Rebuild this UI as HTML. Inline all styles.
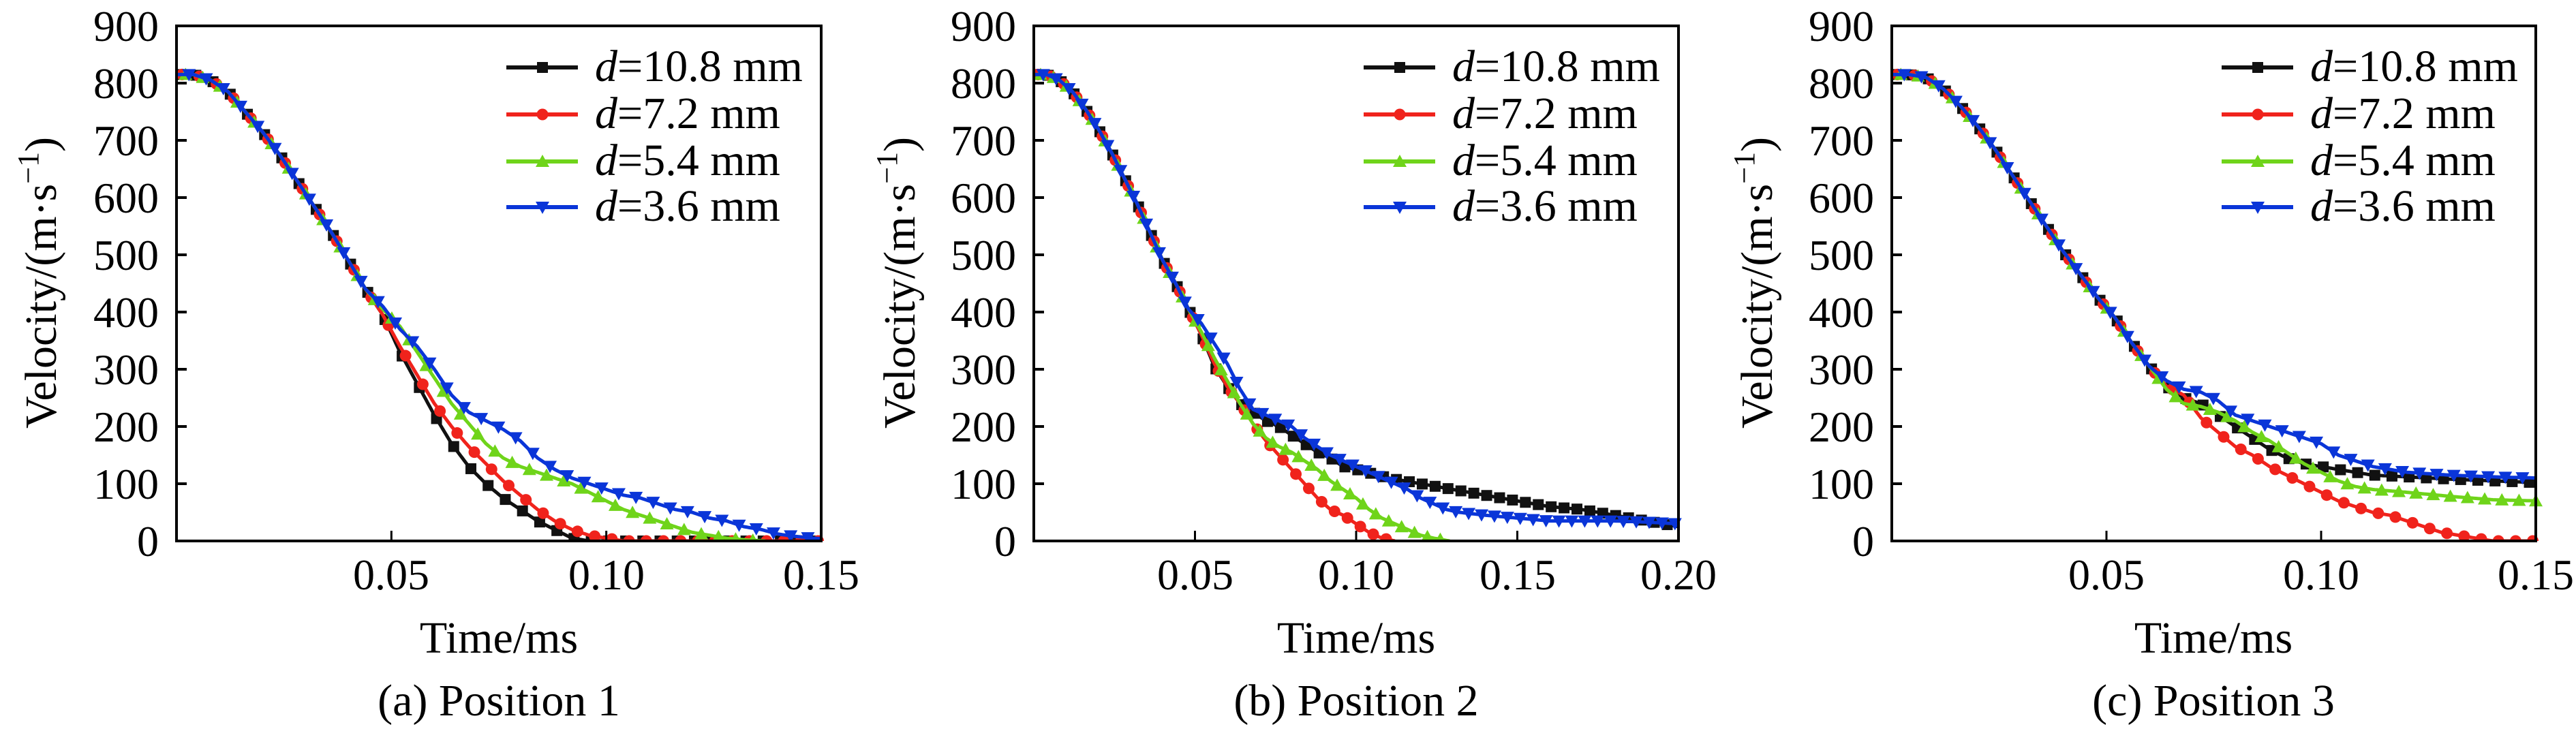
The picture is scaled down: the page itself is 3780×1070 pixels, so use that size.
<!DOCTYPE html>
<html><head><meta charset="utf-8"><style>
html,body{margin:0;padding:0;background:#fff;}
svg{display:block;}
svg text, svg tspan{font-family:"Liberation Serif","Times New Roman",Times,"DejaVu Serif",serif !important;}
</style></head><body>
<svg id="s" width="3780" height="1070" viewBox="0 0 3780 1070" xmlns="http://www.w3.org/2000/svg" style="font-family:'Liberation Serif','DejaVu Serif',serif">
<g id="series"></g>
<g id="static" font-size="66" fill="#000">
<g font-size="64" text-anchor="end">
<text x="233" y="60">900</text><text x="233" y="144">800</text><text x="233" y="228">700</text><text x="233" y="312">600</text><text x="233" y="396">500</text><text x="233" y="480">400</text><text x="233" y="564">300</text><text x="233" y="648">200</text><text x="233" y="732">100</text><text x="233" y="816">0</text>
<text x="1491" y="60">900</text><text x="1491" y="144">800</text><text x="1491" y="228">700</text><text x="1491" y="312">600</text><text x="1491" y="396">500</text><text x="1491" y="480">400</text><text x="1491" y="564">300</text><text x="1491" y="648">200</text><text x="1491" y="732">100</text><text x="1491" y="816">0</text>
<text x="2750" y="60">900</text><text x="2750" y="144">800</text><text x="2750" y="228">700</text><text x="2750" y="312">600</text><text x="2750" y="396">500</text><text x="2750" y="480">400</text><text x="2750" y="564">300</text><text x="2750" y="648">200</text><text x="2750" y="732">100</text><text x="2750" y="816">0</text>
</g>
<g font-size="64" text-anchor="middle">
<text x="574" y="865">0.05</text><text x="890" y="865">0.10</text><text x="1205" y="865">0.15</text>
<text x="1754" y="865">0.05</text><text x="1990" y="865">0.10</text><text x="2227" y="865">0.15</text><text x="2463" y="865">0.20</text>
<text x="3091" y="865">0.05</text><text x="3406" y="865">0.10</text><text x="3721" y="865">0.15</text>
</g>
<g text-anchor="middle">
<text x="732" y="958">Time/ms</text><text x="1990" y="958">Time/ms</text><text x="3248" y="958">Time/ms</text>
<text x="732" y="1050">(a) Position 1</text><text x="1990" y="1050">(b) Position 2</text><text x="3248" y="1050">(c) Position 3</text>
<text transform="translate(82,415) rotate(-90)">Velocity/(m·s<tspan font-size="44" dy="-26">−1</tspan><tspan dy="26">)</tspan></text>
<text transform="translate(1342,415) rotate(-90)">Velocity/(m·s<tspan font-size="44" dy="-26">−1</tspan><tspan dy="26">)</tspan></text>
<text transform="translate(2600,415) rotate(-90)">Velocity/(m·s<tspan font-size="44" dy="-26">−1</tspan><tspan dy="26">)</tspan></text>
</g>
<g id="legtext"></g>
</g>
<g id="frames"></g>
</svg>
<script>
var NS="http://www.w3.org/2000/svg";
function el(t,a,p){var e=document.createElementNS(NS,t);for(var k in a)e.setAttribute(k,a[k]);p.appendChild(e);return e;}
var S=document.getElementById('series'),F=document.getElementById('frames'),LT=document.getElementById('legtext');
var T=38,B=794;
var common1=[[0,815],[0.004,815],[0.008,805],[0.012,785],[0.016,750],[0.020,715],[0.024,675],[0.028,630],[0.032,585],[0.036,540],[0.040,490],[0.044,440],[0.048,395]];
var common2=[[0,815],[0.004,815],[0.008,805],[0.012,785],[0.016,755],[0.020,720],[0.024,680],[0.028,635],[0.032,590],[0.036,540],[0.040,490],[0.044,450],[0.048,405],[0.052,360]];
var common3=[[0,815],[0.004,815],[0.008,810],[0.012,790],[0.016,760],[0.020,725],[0.024,685],[0.028,640],[0.032,595],[0.036,550],[0.040,505],[0.044,465],[0.048,425],[0.052,390],[0.056,345],[0.060,305],[0.064,270]];
function c(a,b){return a.concat(b);}
var panels=[
{L:259,R:1205,xmax:0.15,d:[
c(common1,[[0.052,330],[0.056,275],[0.060,220],[0.064,170],[0.068,130],[0.072,100],[0.076,75],[0.080,55],[0.084,35],[0.088,20],[0.092,5],[0.096,0],[0.15,0]]),
c(common1,[[0.052,340],[0.056,290],[0.060,240],[0.064,200],[0.068,165],[0.072,135],[0.076,105],[0.080,80],[0.084,55],[0.088,35],[0.092,20],[0.096,10],[0.100,5],[0.104,0],[0.15,0]]),
c(common1.slice(0,12),[[0.048,405],[0.052,375],[0.056,330],[0.060,285],[0.064,240],[0.068,205],[0.072,170],[0.076,145],[0.080,130],[0.084,120],[0.088,110],[0.092,100],[0.096,85],[0.100,70],[0.104,55],[0.108,45],[0.112,35],[0.116,25],[0.120,15],[0.124,10],[0.128,5],[0.132,2],[0.137,0]]),
c(common1.slice(0,12),[[0.048,410],[0.052,370],[0.056,340],[0.060,300],[0.064,255],[0.068,225],[0.072,210],[0.076,195],[0.080,175],[0.084,145],[0.088,125],[0.092,110],[0.096,100],[0.100,90],[0.104,80],[0.108,75],[0.112,65],[0.116,55],[0.120,50],[0.124,40],[0.128,35],[0.132,25],[0.136,20],[0.140,12],[0.144,8],[0.148,5],[0.15,4]])
]},
{L:1517,R:2463,xmax:0.2,d:[
c(common2,[[0.056,305],[0.060,270],[0.064,240],[0.068,225],[0.072,210],[0.076,200],[0.080,185],[0.084,170],[0.088,155],[0.092,145],[0.096,130],[0.100,125],[0.110,110],[0.120,100],[0.130,90],[0.140,80],[0.150,70],[0.160,60],[0.170,55],[0.180,45],[0.190,35],[0.200,25]]),
c(common2,[[0.056,310],[0.060,270],[0.064,240],[0.068,205],[0.072,175],[0.076,150],[0.080,125],[0.084,100],[0.088,75],[0.092,55],[0.096,45],[0.100,30],[0.104,15],[0.108,5],[0.112,0]]),
c(common2.slice(0,13),[[0.052,365],[0.056,320],[0.060,280],[0.064,240],[0.068,205],[0.072,180],[0.076,165],[0.080,155],[0.084,140],[0.088,125],[0.092,105],[0.096,90],[0.100,75],[0.104,55],[0.108,40],[0.112,30],[0.116,20],[0.120,10],[0.124,5],[0.129,0]]),
c(common2.slice(0,13),[[0.052,380],[0.056,345],[0.060,310],[0.064,265],[0.068,230],[0.072,220],[0.076,210],[0.080,200],[0.084,180],[0.088,165],[0.092,150],[0.096,140],[0.100,130],[0.104,120],[0.108,110],[0.112,100],[0.116,90],[0.120,75],[0.124,65],[0.128,55],[0.132,50],[0.140,45],[0.150,40],[0.160,35],[0.170,35],[0.180,35],[0.190,33],[0.200,30]])
]},
{L:2776,R:3721,xmax:0.15,d:[
c(common3,[[0.068,250],[0.072,240],[0.076,220],[0.080,200],[0.084,180],[0.088,160],[0.092,145],[0.096,135],[0.100,130],[0.104,125],[0.108,120],[0.112,115],[0.120,112],[0.130,108],[0.140,105],[0.150,102]]),
c(common3,[[0.068,255],[0.072,215],[0.076,190],[0.080,165],[0.084,150],[0.088,130],[0.092,115],[0.096,100],[0.100,85],[0.104,70],[0.108,60],[0.112,50],[0.116,45],[0.120,35],[0.124,25],[0.128,15],[0.132,10],[0.136,5],[0.140,0],[0.150,0]]),
c(common3.slice(0,16),[[0.064,265],[0.068,240],[0.072,235],[0.076,225],[0.080,210],[0.084,190],[0.088,175],[0.092,155],[0.096,135],[0.100,120],[0.104,105],[0.108,95],[0.112,90],[0.120,85],[0.130,78],[0.140,72],[0.150,70]]),
c(common3.slice(0,16),[[0.064,280],[0.068,265],[0.072,260],[0.076,245],[0.080,220],[0.084,210],[0.088,200],[0.092,190],[0.096,180],[0.100,170],[0.104,150],[0.108,140],[0.112,130],[0.116,125],[0.120,120],[0.130,115],[0.140,112],[0.150,110]])
]}
];
var cols=['#111','#f0231c','#6fd41a','#0a35d8'];
var labs=['10.8','7.2','5.4','3.6'];
function interp(d,t){for(var i=1;i<d.length;i++){if(t<=d[i][0]){var a=d[i-1],b=d[i];return a[1]+(b[1]-a[1])*(t-a[0])/(b[0]-a[0]);}}return d[d.length-1][1];}
function marker(k,x,y,g){var col=cols[k];
 if(k==0)el('rect',{x:x-8,y:y-8,width:16,height:16,fill:col},g);
 else if(k==1)el('circle',{cx:x,cy:y,r:8.5,fill:col},g);
 else if(k==2)el('polygon',{points:(x)+','+(y-10)+' '+(x-10)+','+(y+8)+' '+(x+10)+','+(y+8),fill:col},g);
 else el('polygon',{points:(x)+','+(y+10)+' '+(x-10)+','+(y-8)+' '+(x+10)+','+(y-8),fill:col},g);}
panels.forEach(function(p){
 var sx=function(t){return p.L+(p.R-p.L)*t/p.xmax;},sy=function(v){return B-(B-T)*v/900;};
 var cp=el('clipPath',{id:'cp'+p.L},S);el('rect',{x:p.L,y:T-20,width:p.R-p.L+12,height:B-T+20},cp);
 var g=el('g',{'clip-path':'url(#cp'+p.L+')'},S);
 p.d.forEach(function(d,k){
  var tend=d[d.length-1][0];
  var pts=[];for(var t=0;t<=tend+1e-9;t+=p.xmax/300)pts.push(sx(t).toFixed(1)+','+sy(interp(d,t)).toFixed(1));
  pts.push(sx(tend).toFixed(1)+','+sy(d[d.length-1][1]).toFixed(1));
  el('polyline',{points:pts.join(' '),fill:'none',stroke:cols[k],'stroke-width':5,'stroke-linejoin':'round'},g);
  var step=0.004;for(var t=0.0005+k*0.0008;t<=tend+0.0005;t+=step)marker(k,sx(Math.min(t,tend)),sy(interp(d,t)),g);
 });
 el('rect',{x:p.L,y:T,width:p.R-p.L,height:B-T,fill:'none',stroke:'#000','stroke-width':4},F);
 for(var v=0;v<=900;v+=100)el('line',{x1:p.L,x2:p.L+15,y1:sy(v),y2:sy(v),stroke:'#000','stroke-width':4},F);
 for(var t=0.05;t<p.xmax-1e-9;t+=0.05)el('line',{x1:sx(t),x2:sx(t),y1:B,y2:B-15,stroke:'#000','stroke-width':3},F);
 var rows=[99,168,237,304];
 rows.forEach(function(y,k){
  el('line',{x1:p.L+484,x2:p.L+589,y1:y,y2:y,stroke:cols[k],'stroke-width':6},F);
  marker(k,p.L+537,y,F);
  var tx=el('text',{x:p.L+614,y:y+20,'font-size':66},LT);
  var ti=el('tspan',{'font-style':'italic'},tx);ti.textContent='d';
  var tr=el('tspan',{},tx);tr.textContent='='+labs[k]+' mm';
 });
});
</script>
</body></html>
